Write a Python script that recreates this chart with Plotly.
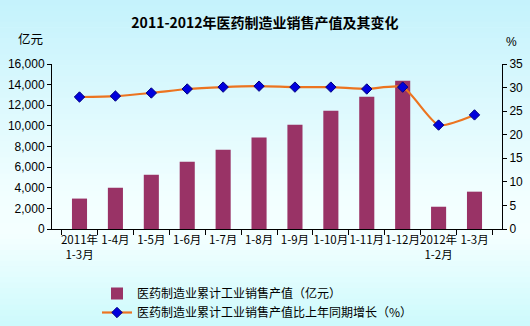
import plotly.graph_objects as go

categories = ["2011年<br>1-3月", "1-4月", "1-5月", "1-6月", "1-7月", "1-8月", "1-9月",
              "1-10月", "1-11月", "1-12月", "2012年<br>1-2月", "1-3月"]
sales_value = [2950, 4000, 5260, 6520, 7690, 8880, 10110, 11470, 12830, 14380, 2160, 3620]
growth_pct = [28.0, 28.2, 28.85, 29.7, 30.1, 30.3, 30.1, 30.1, 29.7, 30.1, 22.05, 24.2]

name_bar = "医药制造业累计工业销售产值（亿元）"
name_line = "医药制造业累计工业销售产值比上年同期增长（%）"

CJK = "Noto Sans CJK SC"
NUM = "Liberation Sans, Arial"

W, H = 530, 326
L, R, T, B = 52, 28, 64, 97
PW, PH = W - L - R, H - T - B

fig = go.Figure()
fig.add_trace(go.Bar(x=categories, y=sales_value, name=name_bar,
                     marker=dict(color="#993366", line=dict(width=0)), yaxis="y"))
fig.add_trace(go.Scatter(x=categories, y=growth_pct, name=name_line, yaxis="y2",
                         mode="lines+markers",
                         line=dict(color="#ec7420", width=2.2, shape="spline", smoothing=0.6),
                         marker=dict(symbol="diamond", size=8, color="#0000dd",
                                     line=dict(color="#000080", width=1))))

# gradient background as stacked bands (paper coords spanning the full canvas)
stops = [(0.0, (196, 242, 252)), (0.6, (242, 255, 255)), (0.72, (244, 255, 255)), (1.0, (204, 250, 252))]
def col(t):
    for (a, ca), (b, cb) in zip(stops[:-1], stops[1:]):
        if a <= t <= b:
            f = (t - a) / (b - a) if b > a else 0
            return "rgb(%d,%d,%d)" % tuple(round(ca[i] + (cb[i] - ca[i]) * f) for i in range(3))
    return "rgb(204,250,252)"
n = 60
shapes = []
for i in range(n):
    t = (i + 0.5) / n
    py_top = i / n * H
    py_bot = (i + 1) / n * H + 0.6
    shapes.append(dict(type="rect", xref="paper", yref="paper", layer="below",
                       x0=-L / PW, x1=1 + R / PW,
                       y0=(H - B - py_bot) / PH, y1=(H - B - py_top) / PH,
                       fillcolor=col(t), line=dict(width=0)))

fig.update_layout(
    width=W, height=H, autosize=False,
    margin=dict(l=L, r=R, t=T, b=B, autoexpand=False),
    paper_bgcolor="#e8fcfe", plot_bgcolor="rgba(0,0,0,0)",
    shapes=shapes,
    bargap=0.58,
    showlegend=True,
    font=dict(family=CJK, size=12, color="#000000"),
    title=dict(text="<b>2011-2012年医药制造业销售产值及其变化</b>", x=0.5, xanchor="center",
               y=1 - 23 / H, yanchor="middle", font=dict(family=CJK, size=14, color="#000000")),
    xaxis=dict(type="category", showline=True, linecolor="#000000", linewidth=1,
               ticks="outside", ticklen=5, tickcolor="#000000", tickson="boundaries",
               showgrid=False, tickangle=0, tickfont=dict(family=CJK, size=11.5), automargin=False),
    yaxis=dict(range=[0, 16000], dtick=2000, tickformat=",", showline=True, linecolor="#000000",
               ticks="outside", ticklen=4, tickcolor="#000000", showgrid=False, zeroline=False,
               tickfont=dict(family=NUM, size=12), automargin=False),
    yaxis2=dict(range=[0, 35], dtick=5, overlaying="y", side="right", showline=True,
                linecolor="#000000", ticks="outside", ticklen=4, tickcolor="#000000",
                showgrid=False, zeroline=False, tickfont=dict(family=NUM, size=12), automargin=False),
    legend=dict(x=(97 - L) / PW, y=(H - B - 279) / PH,
                xanchor="left", yanchor="top", bgcolor="rgba(0,0,0,0)",
                font=dict(family=CJK, size=12), tracegroupgap=0, itemwidth=30),
    annotations=[
        dict(text="亿元", xref="paper", yref="paper", x=-22 / PW, y=1 + 26 / PH,
             xanchor="center", yanchor="middle", showarrow=False, font=dict(family=CJK, size=12.5)),
        dict(text="%", xref="paper", yref="paper", x=1 + 10 / PW, y=1 + 22 / PH,
             xanchor="center", yanchor="middle", showarrow=False, font=dict(family=NUM, size=12)),
    ],
)

fig.write_html("out.html")
